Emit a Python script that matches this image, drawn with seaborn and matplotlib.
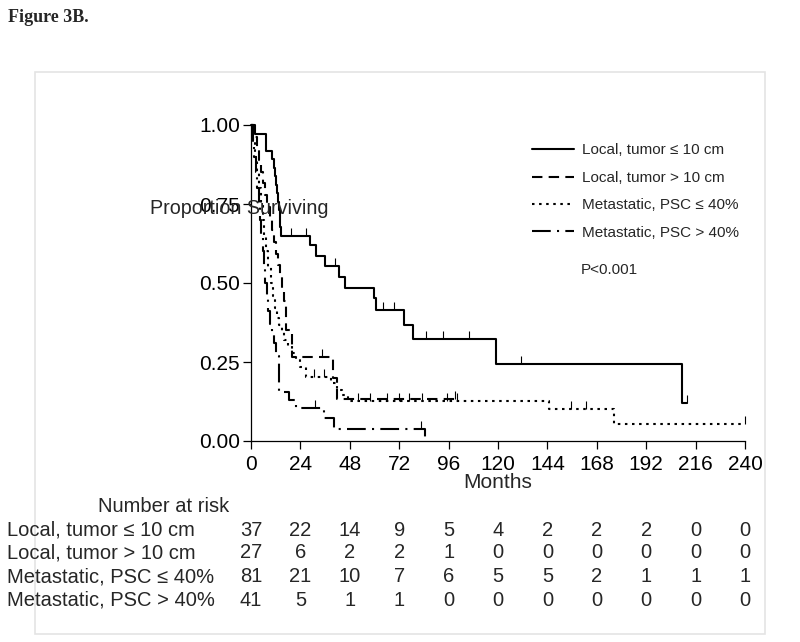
import matplotlib
matplotlib.use("Agg")
import matplotlib.pyplot as plt
import matplotlib.transforms as mtrans
from matplotlib.patches import Rectangle
import seaborn as sns
import pandas as pd

# ---------------- data ----------------
groups = ["Local, tumor \u2264 10 cm", "Local, tumor > 10 cm",
          "Metastatic, PSC \u2264 40%", "Metastatic, PSC > 40%"]

t_local_small = [0, 2, 7.5, 10.4, 11, 11.5, 12, 12.5, 13, 13.5, 14, 14.2, 14.4,
                 28.6, 31.5, 36, 42.8, 45.8, 59.6, 60.7, 74.5, 78.9, 118.8, 209.5, 211.6]
s_local_small = [1.0, 0.973, 0.919, 0.892, 0.865, 0.838, 0.811, 0.784, 0.757, 0.730, 0.703, 0.676, 0.649,
                 0.62, 0.585, 0.555, 0.52, 0.485, 0.451, 0.414, 0.367, 0.322, 0.243, 0.121, 0.121]
c_local_small_t = [19.6, 26.6, 40.7, 64.3, 69.3, 85, 93.3, 106.1, 131.0, 211.6]
c_local_small_s = [0.649, 0.649, 0.555, 0.414, 0.414, 0.322, 0.322, 0.322, 0.243, 0.121]

t_local_large = [0, 1.5, 3, 4, 5, 6, 7, 8, 9, 10, 11, 12, 13, 14, 15, 16, 17, 20.1, 39.6, 42, 99]
s_local_large = [1.0, 0.963, 0.926, 0.889, 0.852, 0.815, 0.778, 0.741, 0.704, 0.667, 0.630, 0.593,
                 0.556, 0.519, 0.481, 0.444, 0.35, 0.265, 0.199, 0.133, 0.133]
c_local_large_t = [34.7, 99]
c_local_large_s = [0.265, 0.133]

t_met_low = [0, 1, 2, 3, 3.8, 4.8, 5.8, 6.5, 7.5, 8.5, 9.5, 10.5, 11.5, 12.5, 13.6, 15, 16, 18, 20, 22,
             24, 26.6, 38.8, 42, 44, 46.9, 144.8, 176.2, 240]
s_met_low = [1.0, 0.95, 0.9, 0.85, 0.8, 0.75, 0.7, 0.65, 0.6, 0.55, 0.5, 0.46, 0.42, 0.39, 0.367, 0.345,
             0.32, 0.30, 0.28, 0.26, 0.235, 0.203, 0.183, 0.16, 0.145, 0.1275, 0.101, 0.0527, 0.0527]
c_met_low_t = [30.7, 35.3, 52, 58, 66, 72, 77, 83, 95, 100, 155.3, 162.6, 240]
c_met_low_s = [0.203, 0.203, 0.1275, 0.1275, 0.1275, 0.1275, 0.1275, 0.1275, 0.1275, 0.1275,
               0.101, 0.101, 0.0527]

t_met_high = [0, 0.8, 1.5, 2.2, 3, 3.7, 4.3, 5, 5.6, 6.2, 7, 7.6, 8.3, 9, 10, 11.2, 12.2, 13.6,
              18.5, 22, 35.5, 40.4, 84.7]
s_met_high = [1.0, 0.95, 0.9, 0.85, 0.8, 0.75, 0.7, 0.65, 0.6, 0.55, 0.5, 0.45, 0.41, 0.37, 0.34,
              0.31, 0.27, 0.156, 0.13, 0.103, 0.072, 0.037, 0.0]
c_met_high_t = [31.2, 82.6]
c_met_high_s = [0.103, 0.037]

risk_times = [0, 24, 48, 72, 96, 120, 144, 168, 192, 216, 240]
risk_local_small = [37, 22, 14, 9, 5, 4, 2, 2, 2, 0, 0]
risk_local_large = [27, 6, 2, 2, 1, 0, 0, 0, 0, 0, 0]
risk_met_low = [81, 21, 10, 7, 6, 5, 5, 2, 1, 1, 1]
risk_met_high = [41, 5, 1, 1, 0, 0, 0, 0, 0, 0, 0]

x_ticks = [0, 24, 48, 72, 96, 120, 144, 168, 192, 216, 240]
y_ticks = [0.00, 0.25, 0.50, 0.75, 1.00]

# ---------------- style ----------------
sns.set_style("ticks")
plt.rcParams["font.family"] = ["Liberation Sans", "DejaVu Sans"]
table_size = 14.5

fig = plt.figure(figsize=(8.0, 6.42), dpi=100)
ax = fig.add_axes([251 / 800, 1 - 441 / 642, (745 - 251) / 800, (441 - 125) / 642])

# gray frame
fig.patches.append(Rectangle((35 / 800, 1 - 634 / 642), (765 - 35) / 800, (634 - 72) / 642,
                             transform=fig.transFigure, fill=False, edgecolor="#e4e4e4", lw=1.2))

styles = [
    (t_local_small, s_local_small, c_local_small_t, c_local_small_s, "-"),
    (t_local_large, s_local_large, c_local_large_t, c_local_large_s, (0, (5, 3))),
    (t_met_low, s_met_low, c_met_low_t, c_met_low_s, (0, (1.2, 2.2))),
    (t_met_high, s_met_high, c_met_high_t, c_met_high_s, (0, (9, 3, 1, 3))),
]

tick_marker = [(0, 0), (0, 1)]
for name, (t, s, ct, cs, ls) in zip(groups, styles):
    df = pd.DataFrame({"Months": t, "Survival": s})
    sns.lineplot(data=df, x="Months", y="Survival", drawstyle="steps-post", estimator=None,
                 color="black", lw=1.5, linestyle=ls, ax=ax, label=name, clip_on=False)
    ax.plot(ct, cs, ls="none", marker=tick_marker, ms=11, mew=0.8, color="black", clip_on=False)

ax.set_xlim(0, 240)
ax.set_ylim(0, 1.0)
ax.set_xticks(x_ticks)
ax.set_xticklabels([str(v) for v in x_ticks])
ax.set_yticks(y_ticks)
ax.set_yticklabels([f"{v:.2f}" for v in y_ticks])
ax.tick_params(axis="both", labelsize=15, length=6, width=0.9, direction="out", colors="black")
ax.tick_params(axis="x", pad=4)
ax.tick_params(axis="y", pad=2)
sns.despine(ax=ax)
for sp in ["left", "bottom"]:
    ax.spines[sp].set_color("black")
    ax.spines[sp].set_linewidth(0.9)
ax.set_xlabel("")
ax.set_ylabel("")

fig.text(498 / 800, 1 - 482 / 642, "Months", fontsize=15, ha="center", va="center")
fig.text(150 / 800, 1 - 208 / 642, "Proportion Surviving", fontsize=14.2, ha="left", va="center")

leg = ax.legend(loc="upper left", bbox_to_anchor=(0.54, 0.985), frameon=False, fontsize=11,
                handlelength=2.8, handletextpad=0.5, labelspacing=0.88)
ax.text(0.667, 0.54, "P<0.001", transform=ax.transAxes, fontsize=11, ha="left", va="center")

fig.text(8 / 800, 1 - 18 / 642, "Figure 3B.", fontsize=13, fontweight="bold",
         family=["Liberation Serif", "DejaVu Serif"], ha="left", va="center")

# number at risk table
tr = mtrans.blended_transform_factory(ax.transData, fig.transFigure)
fig.text(164 / 800, 1 - 506 / 642, "Number at risk", fontsize=table_size, ha="center", va="center")
rows = [risk_local_small, risk_local_large, risk_met_low, risk_met_high]
row_y = [530, 553, 577, 600]
for name, vals, yy in zip(groups, rows, row_y):
    fig.text(7 / 800, 1 - yy / 642, name, fontsize=table_size, ha="left", va="center")
    for tt, v in zip(risk_times, vals):
        ax.text(tt, 1 - yy / 642, str(v), transform=tr, fontsize=table_size,
                ha="center", va="center", clip_on=False)

fig.savefig("out.png", dpi=100)
